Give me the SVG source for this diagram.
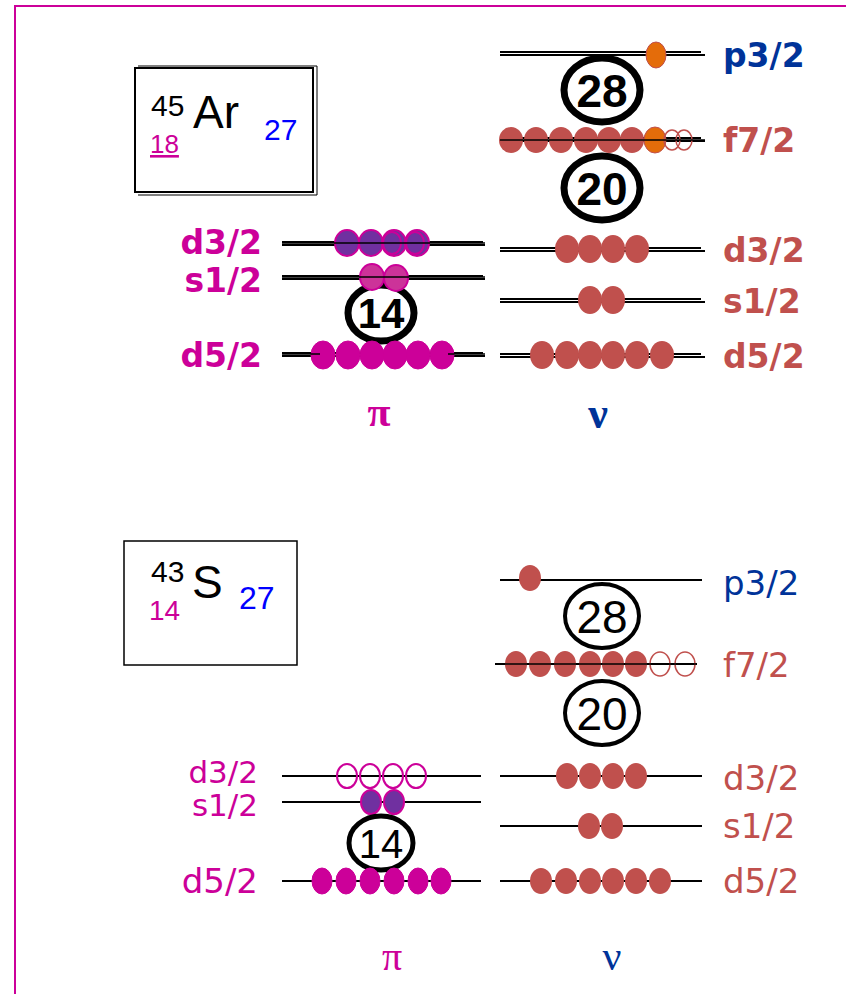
<svg xmlns="http://www.w3.org/2000/svg" width="846" height="994" viewBox="0 0 846 994">
<style>
.lv{stroke:#000;stroke-width:2;fill:none}
.lvd{stroke:#000;stroke-width:1.5;fill:none}
.pm{fill:#cc0099;stroke:#cc0099;stroke-width:1}
.pp{fill:#7030a0;stroke:#cc0099;stroke-width:2}
.ps{fill:#cc3399;stroke:#cc0099;stroke-width:2}
.po{fill:none;stroke:#cc0099;stroke-width:2}
.nr{fill:#c0504d}
.no{fill:#e46c0a;stroke:#c0504d;stroke-width:1}
.nro{fill:none;stroke:#c0504d;stroke-width:1.5}
.mag{stroke:#000;fill:#fff}
.lbl{font-family:"DejaVu Sans",sans-serif;font-size:34px}
.lblb{font-family:"DejaVu Sans",sans-serif;font-size:33px;font-weight:bold}
.magic{font-family:"Liberation Sans",Arial,sans-serif;text-anchor:middle;fill:#000}
.lib{font-family:"Liberation Sans",Arial,sans-serif}
.cp{fill:#cc0099}
.cn{fill:#c0504d}
.cb{fill:#003399}
</style>
<g id="frame"><path d="M15,994 V6 H846" fill="none" stroke="#cc0099" stroke-width="2"/></g>

<!-- Top: 45Ar -->
<g id="box-ar">
<rect x="135" y="68" width="178" height="124" fill="#fff" stroke="#000" stroke-width="2"/>
<path d="M138,66 H317 V195 H138" fill="none" stroke="#000" stroke-width="1"/>
<text class="lib" x="151" y="116" font-size="30" fill="#000">45</text>
<text class="lib" x="193" y="128" font-size="46" fill="#000">Ar</text>
<text class="lib" x="150" y="153" font-size="26" fill="#cc0099" text-decoration="underline">18</text>
<text class="lib" x="264" y="140" font-size="30" fill="#0000ff">27</text>
</g>

<g id="connectors">
<!-- top proton levels -->
<path class="lv" d="M282,242 H483 M282,245 H485"/>
<path class="lv" d="M282,276 H483 M282,279 H485"/>
<path class="lv" d="M282,353 H483 M282,356 H485"/>
<!-- top neutron levels -->
<path class="lv" d="M500,52 H701 M500,55 H705"/>
<path class="lv" d="M500,138 H701 M500,141 H705"/>
<path class="lv" d="M500,248 H701 M500,251 H705"/>
<path class="lv" d="M500,299 H701 M500,302 H705"/>
<path class="lv" d="M500,354 H701 M500,357 H705"/>
<!-- bottom proton levels -->
<path class="lv" d="M282,776 H481"/>
<path class="lv" d="M282,802 H481"/>
<path class="lv" d="M282,881 H481"/>
<!-- bottom neutron levels -->
<path class="lv" d="M500,580 H702"/>
<path class="lv" d="M495,664 H697"/>
<path class="lv" d="M500,776 H702"/>
<path class="lv" d="M500,826 H702"/>
<path class="lv" d="M500,881 H702"/>
</g>

<g id="top-proton">
<g id="p-d32-top">
<ellipse class="pp" cx="347" cy="243" rx="12" ry="13"/>
<ellipse class="pp" cx="371" cy="243" rx="12" ry="13"/>
<ellipse class="pp" cx="394" cy="243" rx="12" ry="13"/>
<ellipse class="po" cx="392" cy="243" rx="9" ry="11"/>
<ellipse class="pp" cx="417" cy="243" rx="12" ry="13"/>
<ellipse class="po" cx="415" cy="243" rx="9" ry="11"/>
<path class="lvd" d="M282,243 H485"/>
</g>
<g id="magic14-top">
<ellipse class="mag" cx="381" cy="313" rx="33" ry="28" stroke-width="7"/>
<text class="magic" x="381" y="328" font-size="42" font-weight="bold">14</text>
</g>
<g id="p-s12-top">
<ellipse class="ps" cx="372" cy="277" rx="12" ry="13"/>
<ellipse class="ps" cx="396" cy="278" rx="12" ry="13"/>
<path class="lvd" d="M282,277 H485"/>
</g>
<g id="p-d52-top">
<ellipse class="pm" cx="323" cy="355" rx="12" ry="14"/>
<ellipse class="pm" cx="348" cy="355" rx="12" ry="14"/>
<ellipse class="pm" cx="372" cy="355" rx="12" ry="14"/>
<ellipse class="pm" cx="395" cy="355" rx="12" ry="14"/>
<ellipse class="pm" cx="418" cy="355" rx="12" ry="14"/>
<ellipse class="pm" cx="442" cy="355" rx="12" ry="14"/>
<path class="lvd" d="M282,354 H320 M448,354 H485"/>
</g>
<text class="lblb cp" x="262" y="254" text-anchor="end">d3/2</text>
<text class="lblb cp" x="262" y="292" text-anchor="end">s1/2</text>
<text class="lblb cp" x="262" y="367" text-anchor="end">d5/2</text>
<text x="379" y="426" font-family="Liberation Serif,serif" font-size="42" font-weight="bold" fill="#cc0099" text-anchor="middle">π</text>
</g>

<g id="top-neutron">
<g id="n-p32-top">
<ellipse class="no" cx="656" cy="55" rx="10" ry="13"/>
</g>
<g id="magic28-top">
<ellipse class="mag" cx="602" cy="90" rx="38" ry="32" stroke-width="7"/>
<text class="magic" x="602" y="107" font-size="46" font-weight="bold">28</text>
</g>
<g id="n-f72-top">
<ellipse class="nr" cx="511" cy="140" rx="12" ry="13"/>
<ellipse class="nr" cx="536" cy="140" rx="12" ry="13"/>
<ellipse class="nr" cx="561" cy="140" rx="12" ry="13"/>
<ellipse class="nr" cx="586" cy="140" rx="12" ry="13"/>
<ellipse class="nr" cx="609" cy="140" rx="12" ry="13"/>
<ellipse class="nr" cx="632" cy="140" rx="12" ry="13"/>
<ellipse class="no" cx="655" cy="140" rx="11" ry="13"/>
<ellipse class="nro" cx="672" cy="140" rx="8" ry="10"/>
<ellipse class="nro" cx="684" cy="140" rx="8" ry="10"/>
<path class="lvd" d="M500,140 H705"/>
</g>
<g id="magic20-top">
<ellipse class="mag" cx="602" cy="188" rx="38" ry="32" stroke-width="7"/>
<text class="magic" x="602" y="205" font-size="46" font-weight="bold">20</text>
</g>
<g id="n-d32-top">
<ellipse class="nr" cx="567" cy="249" rx="12" ry="14"/>
<ellipse class="nr" cx="590" cy="249" rx="12" ry="14"/>
<ellipse class="nr" cx="613" cy="249" rx="12" ry="14"/>
<ellipse class="nr" cx="637" cy="249" rx="12" ry="14"/>
</g>
<g id="n-s12-top">
<ellipse class="nr" cx="590" cy="300" rx="12" ry="14"/>
<ellipse class="nr" cx="613" cy="300" rx="12" ry="14"/>
</g>
<g id="n-d52-top">
<ellipse class="nr" cx="542" cy="355" rx="12" ry="14"/>
<ellipse class="nr" cx="567" cy="355" rx="12" ry="14"/>
<ellipse class="nr" cx="590" cy="355" rx="12" ry="14"/>
<ellipse class="nr" cx="613" cy="355" rx="12" ry="14"/>
<ellipse class="nr" cx="637" cy="355" rx="12" ry="14"/>
<ellipse class="nr" cx="662" cy="355" rx="12" ry="14"/>
</g>
<text class="lblb cb" x="723" y="67">p3/2</text>
<text class="lblb cn" x="723" y="152">f7/2</text>
<text class="lblb cn" x="723" y="262">d3/2</text>
<text class="lblb cn" x="723" y="313">s1/2</text>
<text class="lblb cn" x="723" y="368">d5/2</text>
<text x="598" y="428" font-family="Liberation Serif,serif" font-size="44" font-weight="bold" fill="#003399" text-anchor="middle">ν</text>
</g>

<!-- Bottom: 43S -->
<g id="box-s">
<rect x="124" y="541" width="173" height="124" fill="#fff" stroke="#000" stroke-width="1.5"/>
<text class="lib" x="151" y="582" font-size="30" fill="#000">43</text>
<text class="lib" x="192" y="598" font-size="46" fill="#000">S</text>
<text class="lib" x="149" y="620" font-size="28" fill="#cc0099">14</text>
<text class="lib" x="239" y="609" font-size="32" fill="#0000ff">27</text>
</g>

<g id="bottom-proton">
<g id="p-d32-bot">
<ellipse class="po" cx="347" cy="776" rx="10" ry="12"/>
<ellipse class="po" cx="370" cy="776" rx="10" ry="12"/>
<ellipse class="po" cx="393" cy="776" rx="10" ry="12"/>
<ellipse class="po" cx="416" cy="776" rx="10" ry="12"/>
</g>
<g id="p-s12-bot">
<ellipse class="pp" cx="371" cy="802" rx="10" ry="12"/>
<ellipse class="pp" cx="394" cy="802" rx="10" ry="12"/>
</g>
<g id="magic14-bot">
<ellipse class="mag" cx="381" cy="843" rx="32" ry="27" stroke-width="5"/>
<text class="magic" x="381" y="858" font-size="40">14</text>
</g>
<g id="p-d52-bot">
<ellipse class="pm" cx="322" cy="881" rx="10" ry="13"/>
<ellipse class="pm" cx="346" cy="881" rx="10" ry="13"/>
<ellipse class="pm" cx="370" cy="881" rx="10" ry="13"/>
<ellipse class="pm" cx="394" cy="881" rx="10" ry="13"/>
<ellipse class="pm" cx="418" cy="881" rx="10" ry="13"/>
<ellipse class="pm" cx="441" cy="881" rx="10" ry="13"/>
</g>
<text class="cp" x="258" y="783" text-anchor="end" font-family="DejaVu Sans,sans-serif" font-size="31">d3/2</text>
<text class="cp" x="258" y="816" text-anchor="end" font-family="DejaVu Sans,sans-serif" font-size="31">s1/2</text>
<text class="lbl cp" x="258" y="893" text-anchor="end">d5/2</text>
<text x="392" y="970" font-family="Liberation Serif,serif" font-size="40" fill="#cc0099" text-anchor="middle">π</text>
</g>

<g id="bottom-neutron">
<g id="n-p32-bot">
<ellipse class="nr" cx="530" cy="578" rx="11" ry="13"/>
</g>
<g id="magic28-bot">
<ellipse class="mag" cx="602" cy="616" rx="37" ry="32" stroke-width="4"/>
<text class="magic" x="602" y="633" font-size="46">28</text>
</g>
<g id="n-f72-bot">
<ellipse class="nr" cx="516" cy="664" rx="11" ry="13"/>
<ellipse class="nr" cx="540" cy="664" rx="11" ry="13"/>
<ellipse class="nr" cx="565" cy="664" rx="11" ry="13"/>
<ellipse class="nr" cx="590" cy="664" rx="11" ry="13"/>
<ellipse class="nr" cx="613" cy="664" rx="11" ry="13"/>
<ellipse class="nr" cx="636" cy="664" rx="11" ry="13"/>
<ellipse class="nro" cx="660" cy="664" rx="10" ry="12"/>
<ellipse class="nro" cx="685" cy="664" rx="10" ry="12"/>
<path class="lvd" d="M495,664 H697"/>
</g>
<g id="magic20-bot">
<ellipse class="mag" cx="602" cy="713" rx="37" ry="32" stroke-width="4"/>
<text class="magic" x="602" y="730" font-size="46">20</text>
</g>
<g id="n-d32-bot">
<ellipse class="nr" cx="567" cy="776" rx="11" ry="13"/>
<ellipse class="nr" cx="590" cy="776" rx="11" ry="13"/>
<ellipse class="nr" cx="613" cy="776" rx="11" ry="13"/>
<ellipse class="nr" cx="636" cy="776" rx="11" ry="13"/>
</g>
<g id="n-s12-bot">
<ellipse class="nr" cx="589" cy="826" rx="11" ry="13"/>
<ellipse class="nr" cx="612" cy="826" rx="11" ry="13"/>
</g>
<g id="n-d52-bot">
<ellipse class="nr" cx="541" cy="881" rx="11" ry="13"/>
<ellipse class="nr" cx="566" cy="881" rx="11" ry="13"/>
<ellipse class="nr" cx="590" cy="881" rx="11" ry="13"/>
<ellipse class="nr" cx="613" cy="881" rx="11" ry="13"/>
<ellipse class="nr" cx="636" cy="881" rx="11" ry="13"/>
<ellipse class="nr" cx="660" cy="881" rx="11" ry="13"/>
</g>
<text class="lbl cb" x="723" y="595">p3/2</text>
<text class="lbl cn" x="723" y="677">f7/2</text>
<text class="lbl cn" x="723" y="790">d3/2</text>
<text class="lbl cn" x="723" y="838">s1/2</text>
<text class="lbl cn" x="723" y="893">d5/2</text>
<text x="612" y="970" font-family="Liberation Serif,serif" font-size="42" fill="#003399" text-anchor="middle">ν</text>
</g>
</svg>
